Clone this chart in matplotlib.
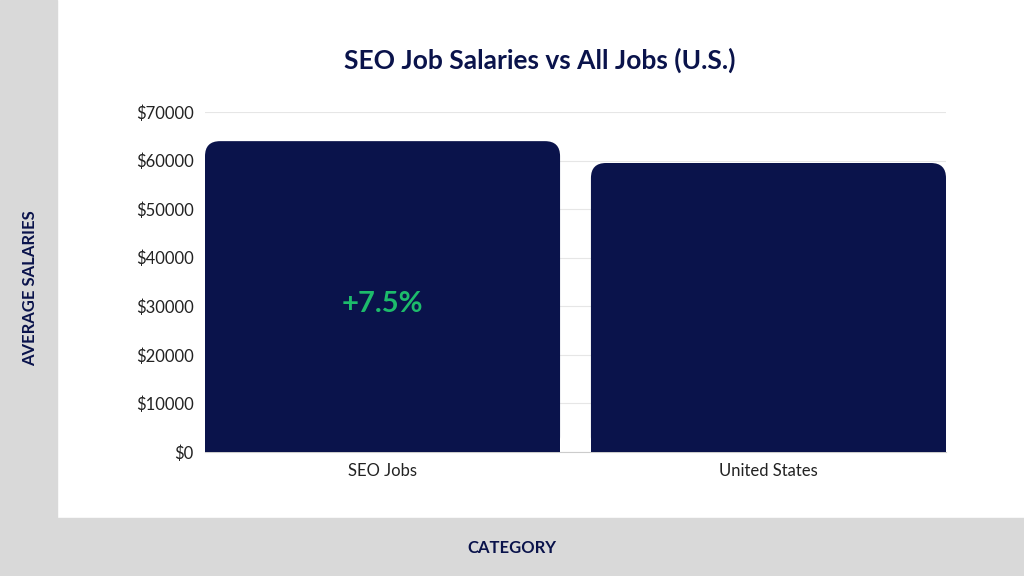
import matplotlib.pyplot as plt
from matplotlib.patches import FancyBboxPatch, Rectangle

categories = ['SEO Jobs', 'United States']
salaries = [64000, 59500]
ticks = [0, 10000, 20000, 30000, 40000, 50000, 60000, 70000]
tick_labels = ['$' + str(t) for t in ticks]
diff_label = '+7.5%'

navy = '#0a134b'
plt.rcParams['font.family'] = 'Lato'

fig = plt.figure(figsize=(10.24, 5.76), dpi=100)
fig.patches.append(Rectangle((0, 0), 57/1024, 1, transform=fig.transFigure, color='#d9d9d9', zorder=0))
fig.patches.append(Rectangle((57/1024, 0), 1, 58/576, transform=fig.transFigure, color='#d9d9d9', zorder=0))

ax = fig.add_axes([205/1024, 1 - 452/576, 741/1024, 340/576])
width = 0.92
r_x = 0.039
aspect = 3093 / r_x
for i, v in enumerate(salaries):
    p = FancyBboxPatch((i - width/2 + r_x, r_x * aspect), width - 2*r_x, v - 2*r_x*aspect,
                       boxstyle='round,pad=%f' % r_x, mutation_aspect=aspect,
                       facecolor=navy, edgecolor='none', zorder=3)
    ax.add_patch(p)
    ax.add_patch(Rectangle((i - width/2, 0), width, 5000, facecolor=navy, edgecolor='none', zorder=3))

ax.text(0, salaries[0] * 0.475, diff_label, ha='center', va='center', color='#1dbb6b',
        fontsize=21, fontweight='bold', zorder=4)

ax.set_xlim(-0.46, 1.46)
ax.set_ylim(0, 70000)
ax.set_xticks(range(len(categories)))
ax.set_xticklabels(categories, fontsize=12, color='#222222')
ax.set_yticks(ticks)
ax.set_yticklabels(tick_labels, fontsize=12, color='#222222')
ax.tick_params(length=0, pad=8)
ax.grid(axis='y', color='#e6e6e6', linewidth=0.8, zorder=0)
for s in ['top', 'right', 'left']:
    ax.spines[s].set_visible(False)
ax.spines['bottom'].set_color('#cccccc')

fig.text(540/1024, 1 - 60/576, 'SEO Job Salaries vs All Jobs (U.S.)', ha='center', va='center',
         fontsize=19, fontweight='bold', color=navy)
fig.text(30/1024, 1 - 288/576, 'AVERAGE SALARIES', rotation=90, ha='center', va='center',
         fontsize=12, fontweight='bold', color=navy)
fig.text(512/1024, 1 - 548/576, 'CATEGORY', ha='center', va='center',
         fontsize=12, fontweight='bold', color=navy)

fig.savefig('out.png', dpi=100)
